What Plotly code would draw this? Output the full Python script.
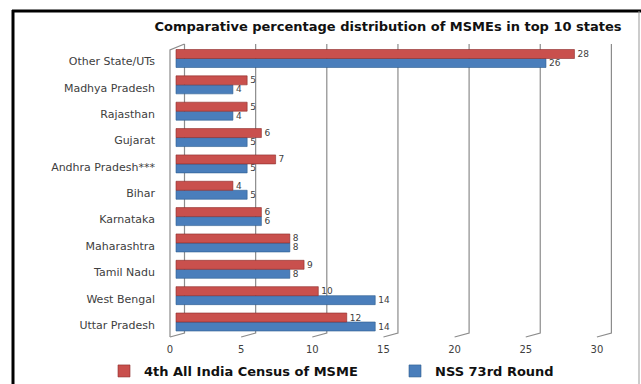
import plotly.graph_objects as go

# ---- data (bottom to top as drawn by the axis) ----
states = ["Uttar Pradesh", "West Bengal", "Tamil Nadu", "Maharashtra", "Karnataka",
          "Bihar", "Andhra Pradesh***", "Gujarat", "Rajasthan", "Madhya Pradesh",
          "Other State/UTs"]
census = [12, 10, 9, 8, 6, 4, 7, 6, 5, 5, 28]
nss = [14, 14, 8, 8, 6, 5, 5, 5, 4, 4, 26]
x_ticks = [0, 5, 10, 15, 20, 25, 30]

title = "Comparative percentage distribution of MSMEs in top 10 states"
name_census = "4th All India Census of MSME"
name_nss = "NSS 73rd Round"

RED = "#C9504D"
RED_EDGE = "#8C2A28"
BLUE = "#4A7EBB"
BLUE_EDGE = "#2C5D8F"
TXT = "#404040"
FONT = "DejaVu Sans"

W, H = 641, 384
L, R, T, B = 160, 16, 44, 46
pw, ph = W - L - R, H - T - B
ppu = 14.23  # px per unit


def px2paper_x(px):
    return (px - L) / pw


def py2paper_y(py):
    return (H - B - py) / ph


fig = go.Figure()

# NSS first so that it sits lower within each group
fig.add_trace(go.Bar(
    y=states, x=nss, orientation="h", name=name_nss,
    marker=dict(color=BLUE, line=dict(color=BLUE_EDGE, width=0.6)),
    text=nss, textposition="outside", cliponaxis=False, constraintext="none",
    textfont=dict(family=FONT, size=9, color=TXT),
    legend="legend2",
))
fig.add_trace(go.Bar(
    y=states, x=census, orientation="h", name=name_census,
    marker=dict(color=RED, line=dict(color=RED_EDGE, width=0.6)),
    text=census, textposition="outside", cliponaxis=False, constraintext="none",
    textfont=dict(family=FONT, size=9, color=TXT),
    legend="legend",
))
# invisible trace that carries the category labels on a slightly shifted axis
fig.add_trace(go.Scatter(
    y=states, x=[0] * len(states), yaxis="y2", mode="markers",
    marker=dict(opacity=0), showlegend=False, hoverinfo="skip",
))
fig.add_trace(go.Scatter(x=[None], y=[None], xaxis="x2", showlegend=False, hoverinfo="skip"))

# ranges
x_bar0 = 176
x_lab0 = 170
xr_bar = [(L - x_bar0) / ppu, (L + pw - x_bar0) / ppu]
xr_lab = [(L - x_lab0) / ppu, (L + pw - x_lab0) / ppu]
rowpx = 26.35
y0_px = 322
yr = [(y0_px - (H - B)) / rowpx, (y0_px - T) / rowpx]
y0_lab = 325
yr2 = [(y0_lab - (H - B)) / rowpx, (y0_lab - T) / rowpx]

# 3D-like grid (back wall + floor slants)
d = 14.5 / ppu
grid_col = "#8C8C8C"
yb = py2paper_y(333)
yf = py2paper_y(337)
shapes = []
for t in x_ticks:
    shapes.append(dict(
        type="path", xref="x2", yref="paper", layer="below",
        path=f"M {t + d},1 L {t + d},{yb} L {t},{yf}",
        line=dict(color=grid_col, width=1.2),
    ))
# left side wall front edge
shapes.append(dict(
    type="path", xref="x2", yref="paper", layer="below",
    path=f"M {x_ticks[0]},{yf} L {x_ticks[0]},{py2paper_y(50)} L {x_ticks[0] + d},1",
    line=dict(color=grid_col, width=1.2),
))
# outer frame
shapes.append(dict(type="line", xref="paper", yref="paper",
                   x0=px2paper_x(13), x1=px2paper_x(13),
                   y0=py2paper_y(10), y1=py2paper_y(H + 2),
                   line=dict(color="black", width=3)))
shapes.append(dict(type="line", xref="paper", yref="paper",
                   x0=px2paper_x(12), x1=px2paper_x(W + 2),
                   y0=py2paper_y(11), y1=py2paper_y(11),
                   line=dict(color="black", width=3)))
shapes.append(dict(type="line", xref="paper", yref="paper",
                   x0=px2paper_x(639), x1=px2paper_x(639),
                   y0=py2paper_y(11), y1=py2paper_y(H + 2),
                   line=dict(color="#999999", width=1)))

leg_font = dict(family=FONT, size=13, color="#111111", weight="bold")
fig.update_layout(
    width=W, height=H,
    margin=dict(l=L, r=R, t=T, b=B, pad=0, autoexpand=False),
    paper_bgcolor="white", plot_bgcolor="rgba(0,0,0,0)",
    barmode="group", bargap=0.317, bargroupgap=0,
    font=dict(family=FONT, color=TXT),
    title=dict(text=title, x=px2paper_x(388), xref="paper", xanchor="center",
               y=1 - 26 / H, yref="container", yanchor="middle",
               font=dict(family=FONT, size=13, color="#111111", weight="bold")),
    xaxis=dict(range=xr_bar, showgrid=False, zeroline=False, showline=False,
               showticklabels=False, ticks=""),
    xaxis2=dict(range=xr_lab, overlaying="x", side="bottom", tickvals=x_ticks,
                showgrid=False, zeroline=False, showline=False, ticks="",
                tickfont=dict(family=FONT, size=10, color=TXT),
                ticklabelstandoff=4),
    yaxis=dict(type="category", categoryorder="array", categoryarray=states,
               range=yr, showgrid=False, zeroline=False, showline=False,
               showticklabels=False, ticks=""),
    yaxis2=dict(type="category", categoryorder="array", categoryarray=states,
                range=yr2, overlaying="y", side="left", showgrid=False,
                zeroline=False, showline=False, ticks="",
                tickfont=dict(family=FONT, size=11, color=TXT),
                ticklabelstandoff=4),
    legend=dict(orientation="h", x=104 / W, xref="container", xanchor="left",
                y=1 - 371 / H, yref="container", yanchor="middle",
                font=leg_font, bgcolor="rgba(0,0,0,0)"),
    legend2=dict(orientation="h", x=395 / W, xref="container", xanchor="left",
                 y=1 - 371 / H, yref="container", yanchor="middle",
                 font=leg_font, bgcolor="rgba(0,0,0,0)"),
    shapes=shapes,
    showlegend=True,
)

fig.write_html("out.html")
